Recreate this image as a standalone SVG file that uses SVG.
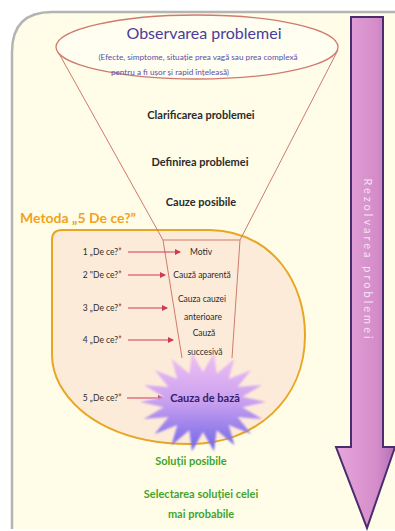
<svg xmlns="http://www.w3.org/2000/svg" width="395" height="531" viewBox="0 0 395 531">
<defs>
<style>
.t{font-family:Lato,"Open Sans","Liberation Sans",sans-serif;text-anchor:middle}
.dk{fill:#2b2b2b;font-weight:bold;font-size:11px}
.sm{fill:#2b2b2b;font-size:8.5px}
.gr{fill:#3fa52e;font-weight:bold;font-size:11px}
.fl{fill:none;stroke:#cf7a6c;stroke-width:1}
.ar{stroke:#cc3b52;stroke-width:1.2;fill:none;marker-end:url(#ah)}
</style>
<marker id="ah" viewBox="0 0 6 6" refX="5" refY="3" markerWidth="5" markerHeight="5" orient="auto">
<path d="M0,0 L6,3 L0,6 Z" fill="#cc3b52"/>
</marker>
<linearGradient id="arrowG" x1="0" y1="0" x2="1" y2="0">
<stop offset="0" stop-color="#e6a6dc"/>
<stop offset="0.7" stop-color="#d48cc8"/>
<stop offset="1" stop-color="#b070b8"/>
</linearGradient>
<linearGradient id="starG" x1="0" y1="0" x2="0" y2="1">
<stop offset="0" stop-color="#f0c0f2"/>
<stop offset="0.5" stop-color="#c9a0f0"/>
<stop offset="1" stop-color="#6f64e6"/>
</linearGradient>
<filter id="soft" x="-10%" y="-10%" width="120%" height="120%">
<feGaussianBlur stdDeviation="1.2"/>
</filter>
</defs>

<g id="background">
<path d="M12,529 L12,52 Q12,12 52,12 L395,12 L395,529 Z" fill="#fffde7"/>
<path d="M12,529 L12,52 Q12,12 52,12 L395,12" fill="none" stroke="#b4b4b4" stroke-width="2.5"/>
</g>

<g id="process-arrow">
<path d="M351,17 L383,17 L383,447 L395,447 L367,528 L336,447 L351,447 Z" fill="url(#arrowG)" stroke="#4b2c6e" stroke-width="2"/>
<text class="t" transform="translate(367,260) rotate(90)" font-size="11" fill="#f2e4f0" letter-spacing="3" dominant-baseline="middle">Rezolvarea problemei</text>
</g>

<g id="metoda-area">
<path d="M62,230 L210,230 C275,232 305,285 305,335 C305,400 255,444 190,444 C125,444 80,420 60,385 Q52,370 52,355 L52,240 Q52,230 62,230 Z" fill="#fdebd9" stroke="#e8a624" stroke-width="2"/>
<text x="20" y="223" font-family="Lato,'Open Sans','Liberation Sans',sans-serif" font-size="14" font-weight="bold" fill="#f2a21e">Metoda „5 De ce?”</text>
</g>

<g id="connectors">
<path class="fl" d="M57,50 L163,240"/>
<path class="fl" d="M338,50 L240,240"/>
<path class="fl" d="M163,240 L182,358"/>
<path class="fl" d="M240,240 L232,358"/>
<path class="fl" d="M163,240 L240,240"/>
<path class="ar" d="M128,252 L180,252"/>
<path class="ar" d="M128,275 L165,275"/>
<path class="ar" d="M128,308 L167,308"/>
<path class="ar" d="M128,340 L173,340"/>
<path class="ar" d="M127,398 L163,398"/>
</g>

<g id="observarea">
<ellipse cx="197" cy="47" rx="141" ry="32" fill="#fffef0" stroke="#cf7a6c" stroke-width="1.3"/>
<text class="t" x="204" y="39" font-size="16" fill="#4a3c9c">Observarea problemei</text>
<text class="t" x="198" y="60" font-size="8.2" fill="#5a4fa8">(Efecte, simptome, situație prea vagă sau prea complexă</text>
<text class="t" x="170" y="75" font-size="8.2" fill="#5a4fa8">pentru a fi ușor și rapid înțeleasă)</text>
</g>

<g id="clarificarea"><text class="t dk" x="201" y="119">Clarificarea  problemei</text></g>
<g id="definirea"><text class="t dk" x="200" y="166">Definirea problemei</text></g>
<g id="cauze"><text class="t dk" x="201" y="206">Cauze posibile</text></g>

<g id="why1">
<text class="t sm" x="102" y="255">1 „De ce?”</text>
<text class="t sm" x="201" y="255">Motiv</text>
</g>
<g id="why2">
<text class="t sm" x="102" y="278">2 "De ce?”</text>
<text class="t sm" x="202" y="278">Cauză aparentă</text>
</g>
<g id="why3">
<text class="t sm" x="102" y="311">3 „De ce?”</text>
<text class="t sm" x="202" y="302">Cauza cauzei</text>
<text class="t sm" x="203" y="320">anterioare</text>
</g>
<g id="why4">
<text class="t sm" x="102" y="343">4 „De ce?”</text>
<text class="t sm" x="204" y="336">Cauză</text>
<text class="t sm" x="205" y="355">succesivă</text>
</g>

<g id="cauza-de-baza">
<polygon filter="url(#soft)" fill="url(#starG)" points="266,402 242.4,407.2 262.2,419.1 237.6,417 251.3,434.1 228.7,425 234.5,445.3 216.7,430.2 214,451.2 203,432 192,451.2 189.3,430.2 171.5,445.3 177.3,425 154.7,434.1 168.4,417 143.8,419.1 163.6,407.2 140,402 163.6,396.8 143.8,384.9 168.4,387 154.7,369.9 177.3,379 171.5,358.7 189.3,373.8 192,352.8 203,372 214,352.8 216.7,373.8 234.5,358.7 228.7,379 251.3,369.9 237.6,387 262.2,384.9 242.4,396.8"/>
<text class="t sm" x="102" y="401">5 „De ce?”</text>
<text class="t" x="205" y="402" font-size="11" font-weight="bold" fill="#35206a">Cauza de bază</text>
</g>

<g id="solutii"><text class="t gr" x="191" y="465">Soluții posibile</text></g>
<g id="selectarea">
<text class="t gr" x="201" y="498">Selectarea soluției celei</text>
<text class="t gr" x="201" y="518">mai probabile</text>
</g>
</svg>
